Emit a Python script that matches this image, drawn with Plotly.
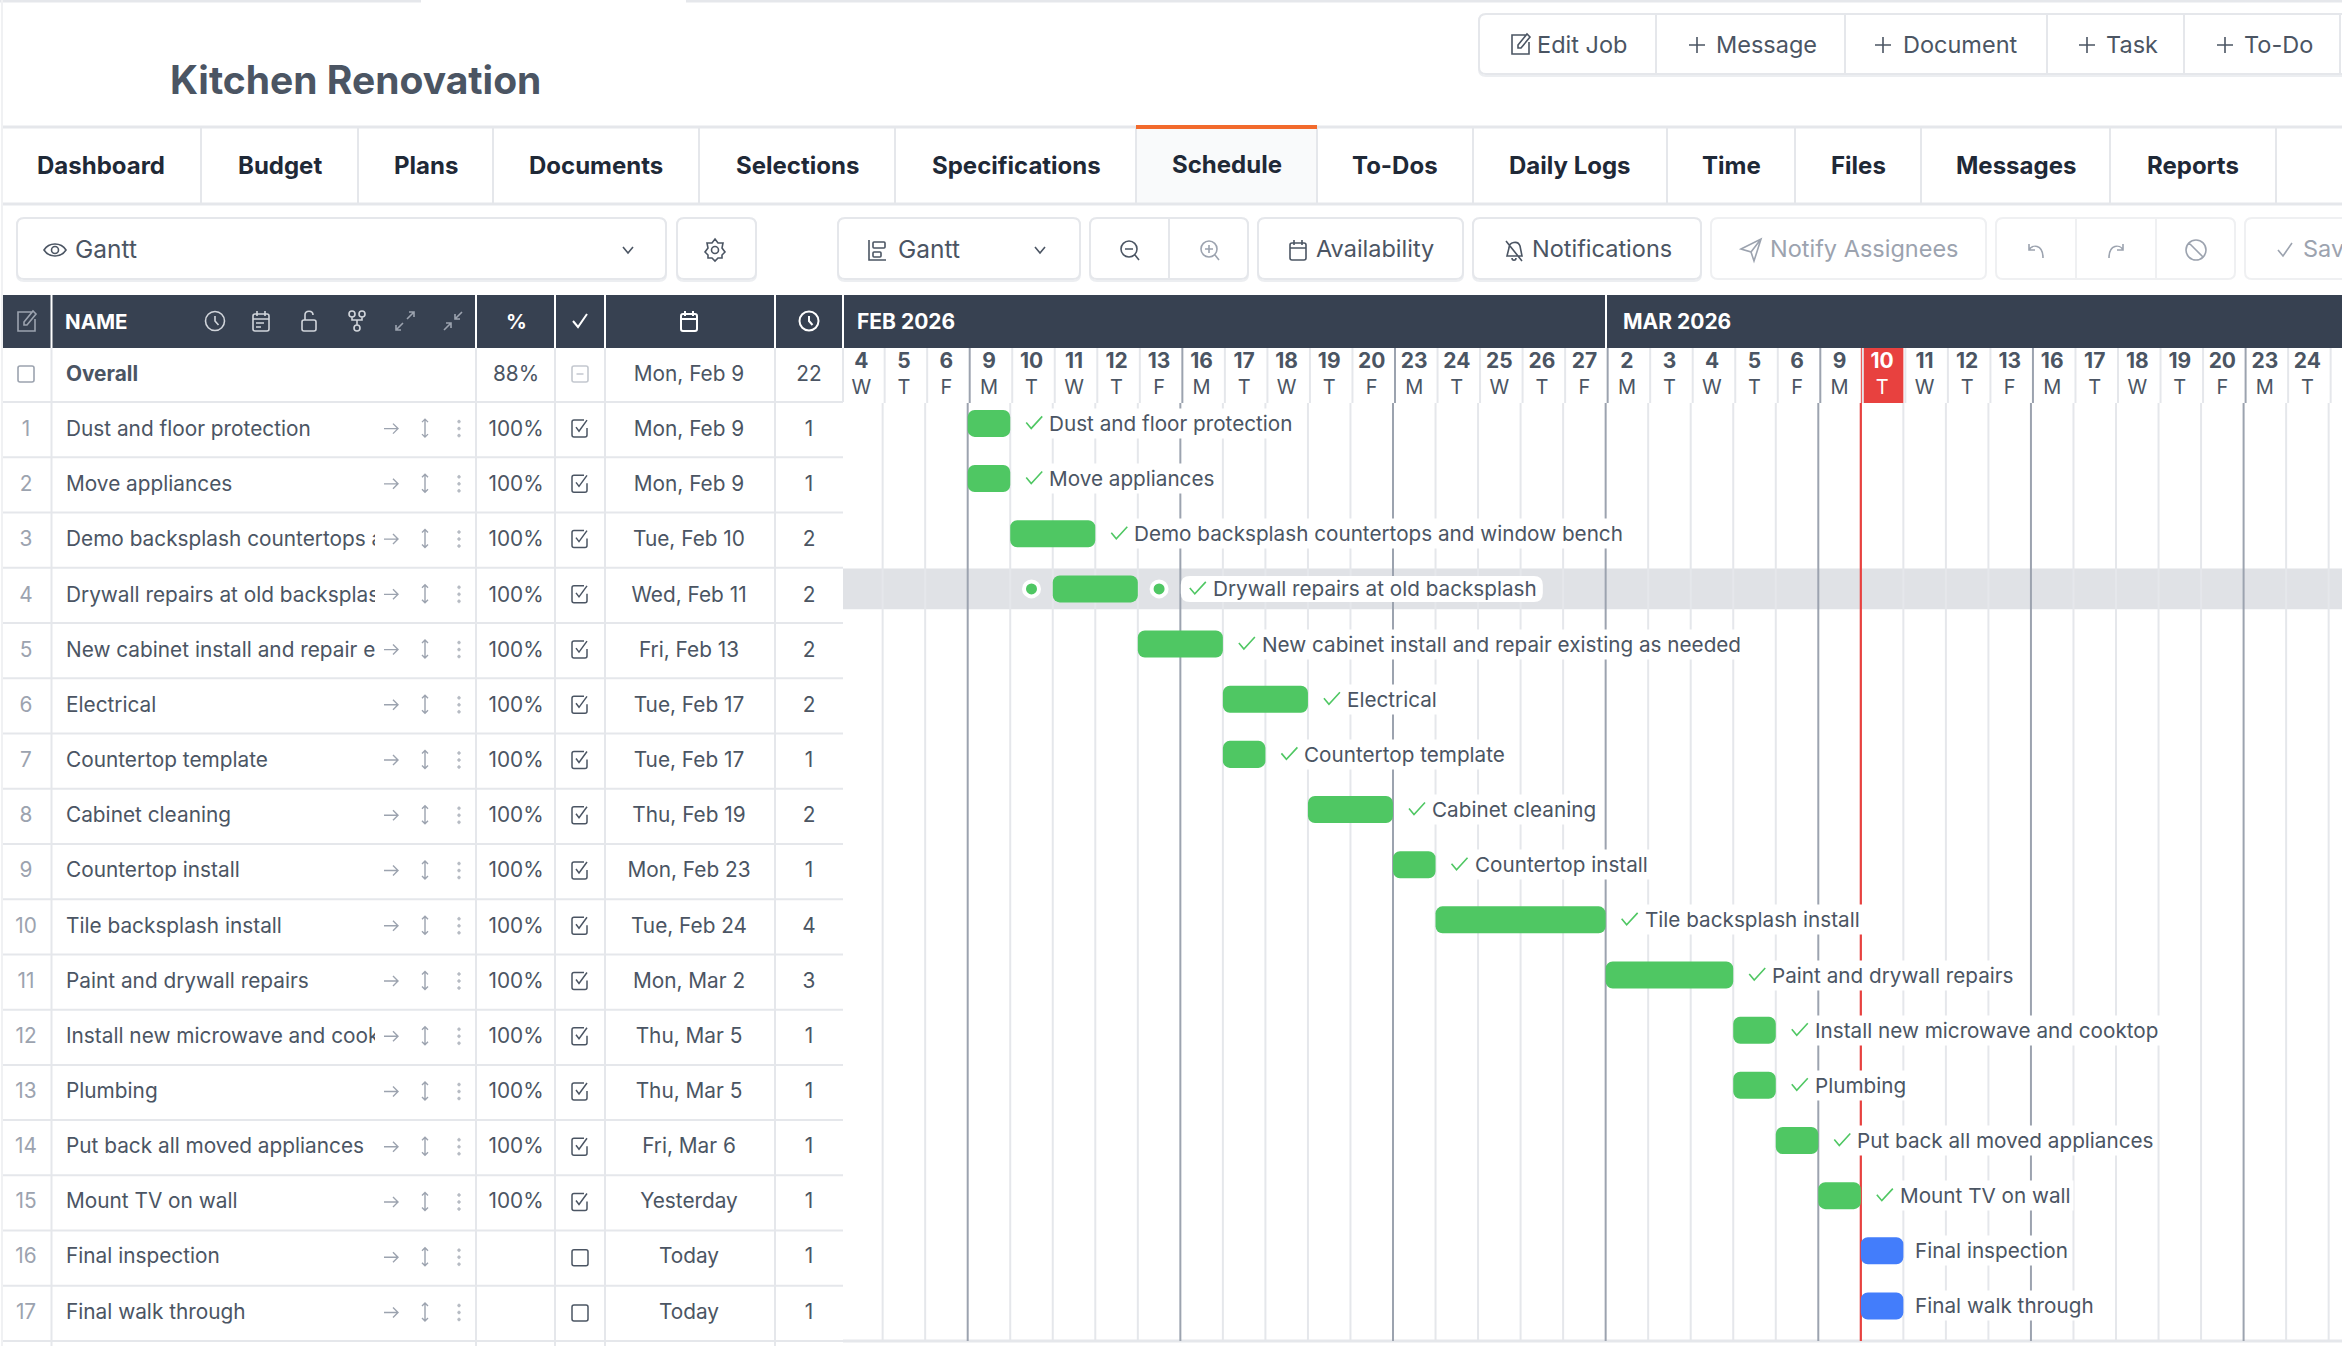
import re
import plotly.graph_objects as go

W, H = 2342, 1346

# ---- data ----
task_names = ["Dust and floor protection", "Move appliances", "Demo backsplash countertops and window bench",
              "Drywall repairs at old backsplash", "New cabinet install and repair existing as needed", "Electrical",
              "Countertop template", "Cabinet cleaning", "Countertop install", "Tile backsplash install",
              "Paint and drywall repairs", "Install new microwave and cooktop", "Plumbing",
              "Put back all moved appliances", "Mount TV on wall", "Final inspection", "Final walk through"]
task_pct = ["100%"] * 15 + ["", ""]
task_start_text = ["Mon, Feb 9", "Mon, Feb 9", "Tue, Feb 10", "Wed, Feb 11", "Fri, Feb 13", "Tue, Feb 17", "Tue, Feb 17",
                   "Thu, Feb 19", "Mon, Feb 23", "Tue, Feb 24", "Mon, Mar 2", "Thu, Mar 5", "Thu, Mar 5", "Fri, Mar 6",
                   "Yesterday", "Today", "Today"]
task_start_day = ["Feb 9", "Feb 9", "Feb 10", "Feb 11", "Feb 13", "Feb 17", "Feb 17", "Feb 19", "Feb 23", "Feb 24",
                  "Mar 2", "Mar 5", "Mar 5", "Mar 6", "Mar 9", "Mar 10", "Mar 10"]
task_days = [1, 1, 2, 2, 2, 2, 1, 2, 1, 4, 3, 1, 1, 1, 1, 1, 1]
overall = ["Overall", "88%", "Mon, Feb 9", "22"]

day_keys = ["Feb 4", "Feb 5", "Feb 6", "Feb 9", "Feb 10", "Feb 11", "Feb 12", "Feb 13", "Feb 16", "Feb 17", "Feb 18",
            "Feb 19", "Feb 20", "Feb 23", "Feb 24", "Feb 25", "Feb 26", "Feb 27", "Mar 2", "Mar 3", "Mar 4", "Mar 5",
            "Mar 6", "Mar 9", "Mar 10", "Mar 11", "Mar 12", "Mar 13", "Mar 16", "Mar 17", "Mar 18", "Mar 19", "Mar 20",
            "Mar 23", "Mar 24", "Mar 25"]
day_letters = ["W", "T", "F", "M", "T", "W", "T", "F", "M", "T", "W", "T", "F", "M", "T", "W", "T", "F", "M", "T", "W",
               "T", "F", "M", "T", "W", "T", "F", "M", "T", "W", "T", "F", "M", "T", "W"]
today = "Mar 10"
hover_task = 4

tab_names = ["Dashboard", "Budget", "Plans", "Documents", "Selections", "Specifications", "Schedule", "To-Dos",
             "Daily Logs", "Time", "Files", "Messages", "Reports"]
active_tab = "Schedule"

# ---- layout constants, in screenshot pixels ----
FONT = "Inter"
INK = "#4b5563"
MUTED = "#9ca3af"
LINE = "#e5e7eb"
DARK = "#374151"
GREEN = "#4fc763"
BLUE = "#437dfb"
RED = "#e8413f"

GANTT_X0 = 843
DAY0_PX = 967.7        # left edge of Feb 9
DAY_PX = 42.53
ROW_PX = 55.24
BOTTOM = 1341
GRID_TOP, GRID_END = 0.63, 17.635
tab_center = [101, 279.5, 426, 596, 797, 1016, 1226.5, 1395, 1570, 1731, 1858, 2016, 2193]
tab_dividers = [201, 358, 493, 699, 895, 1136, 1317, 1473, 1667, 1795, 1921, 2110, 2276]
col_dividers = [51.5, 476, 555, 605, 775, 843]

day_index = {d: i - 3 for i, d in enumerate(day_keys)}
task_begin = [day_index[d] for d in task_start_day]
task_end = [b + n for b, n in zip(task_begin, task_days)]
rows = list(range(1, len(task_names) + 1))


def row_y(r):
    return 402 + ROW_PX * (r - 0.5)


def tr(path, cx, cy, s=1.0):
    # move an icon path drawn around (0,0) to its place
    nums = iter(range(100000))

    def sub(m):
        v = float(m.group(0))
        return f"{(cx if next(nums) % 2 == 0 else cy) + v * s:.2f}"

    return re.sub(r"-?\d+\.?\d*", sub, path)


def rr(x0, y0, x1, y1, r):
    return (f"M{x0 + r} {y0}L{x1 - r} {y0}Q{x1} {y0} {x1} {y0 + r}L{x1} {y1 - r}Q{x1} {y1} {x1 - r} {y1}"
            f"L{x0 + r} {y1}Q{x0} {y1} {x0} {y1 - r}L{x0} {y0 + r}Q{x0} {y0} {x0 + r} {y0}Z")


def circ(cx, cy, r):
    k = 0.552 * r
    return (f"M{cx - r} {cy}C{cx - r} {cy - k} {cx - k} {cy - r} {cx} {cy - r}C{cx + k} {cy - r} {cx + r} {cy - k} {cx + r} {cy}"
            f"C{cx + r} {cy + k} {cx + k} {cy + r} {cx} {cy + r}C{cx - k} {cy + r} {cx - r} {cy + k} {cx - r} {cy}Z")


ICONS = {
    "clock": circ(0, 0, 9.5) + "M0 -5L0 0L3.5 4",
    "cal": rr(-8, -7, 8, 10, 2) + "M-8 -2L8 -2M-4 -10L-4 -5M4 -10L4 -5",
    "cal_lines": rr(-8, -7, 8, 10, 2) + "M-8 -2L8 -2M-4 -10L-4 -5M4 -10L4 -5M-5 2L3 2M-5 6L0 6",
    "lock": rr(-7, -1, 7, 10, 2) + "M-4 -1L-4 -6C-4 -11 4 -11 4 -6",
    "branch": circ(-5, -7, 3) + circ(5, -7, 3) + circ(0, 7, 3) + "M-5 -4L-5 -1L5 -1L5 -4M0 -1L0 4",
    "expand": "M2 -2L9 -9M4 -9L9 -9L9 -4M-2 2L-9 9M-9 4L-9 9L-4 9",
    "compress": "M2 -2L9 -9M2 -7L2 -2L7 -2M-2 2L-9 9M-7 2L-2 2L-2 7",
    "edit": "M6 -9L-8 -9L-8 10L9 10L9 -2M-2 4L-2 1L7 -10L10 -7L1 4Z",
    "check": "M-7 0L-2 6L7 -7",
    "arrow": "M-7 0L7 0M2 -5L7 0L2 5",
    "updown": "M0 -9L0 9M-3 -6L0 -9L3 -6M-3 6L0 9L3 6",
    "eye": "M-11 0C-6 -8 6 -8 11 0C6 8 -6 8 -11 0Z" + circ(0, 0, 3.5),
    "chev": "M-5 -3L0 3L5 -3",
    "gear": "M0 -11L3 -7L8 -7L7 -2L10 2L7 5L7 8L3 8L0 11L-3 8L-7 8L-7 5L-10 2L-7 -2L-8 -7L-3 -7Z" + circ(0, 0, 3.5),
    "gantt": "M-8 -10L-8 10L9 10" + rr(-4, -8, 8, -2, 1) + rr(-4, 2, 4, 7, 1),
    "zoom_out": circ(-1, -1, 8) + "M5 5L9 10M-5 -1L3 -1",
    "zoom_in": circ(-1, -1, 8) + "M5 5L9 10M-5 -1L3 -1M-1 -5L-1 3",
    "bell_off": "M-8 -9L8 11M-7 6L-5 -2C-5 -8 4 -10 6 -4L8 6ZM-2 8C-2 11 2 11 2 8",
    "send": "M-10 -1L10 -11L3 11L0 2ZM0 2L10 -11",
    "undo": "M-7 -6L-7 0L-1 0M-7 0C-4 -6 7 -6 7 8",
    "redo": "M7 -6L7 0L1 0M7 0C4 -6 -7 -6 -7 8",
    "ban": circ(0, 0, 10) + "M-7 -7L7 7",
    "plus": "M-8 0L8 0M0 -8L0 8",
    "minus_box": rr(-8, -8, 8, 8, 2) + "M-3.5 0L3.5 0",
    "box": rr(-8, -8, 8, 8, 2),
    "box_check": "M7 -1L7 6Q7 8 5 8L-6 8Q-8 8 -8 6L-8 -7Q-8 -9 -6 -9L4 -9M-4 -2L-1 2L7 -9",
}

shapes = []
annotations = []


def line(x0, y0, x1, y1, color=LINE, w=2, xref="x", yref="y"):
    shapes.append(dict(type="line", x0=x0, y0=y0, x1=x1, y1=y1, xref=xref, yref=yref, layer="below",
                       line=dict(color=color, width=w)))


def box(x0, y0, x1, y1, color, xref="x", yref="y"):
    shapes.append(dict(type="rect", x0=x0, y0=y0, x1=x1, y1=y1, xref=xref, yref=yref, layer="below",
                       fillcolor=color, line=dict(width=0)))


def path(d, color=LINE, w=2, fill="rgba(0,0,0,0)"):
    shapes.append(dict(type="path", path=d, xref="x", yref="y", layer="below", fillcolor=fill,
                       line=dict(color=color, width=w)))


def icon(name, cx, cy, color=INK, w=1.6, s=1.0):
    path(tr(ICONS[name], cx, cy, s), color, w)


def label(text, x, y, size=23.5, color=INK, weight=400, anchor="left"):
    annotations.append(dict(text=text, x=x, y=y, xref="x", yref="y", xanchor=anchor, yanchor="middle", showarrow=False,
                            font=dict(family=FONT, size=size, color=color, weight=weight)))


def button(x0, x1, dividers=(), border=LINE, shadow=True):
    if shadow:
        path(rr(x0, 219, x1, 281, 7), "#eceef1", 2)
    path(rr(x0, 218, x1, 279, 7), border, 2, "#ffffff")
    for d in dividers:
        line(d, 218, d, 279, border)


# ---- page chrome ----
line(0, 1, 421, 1, LINE, 3)
line(686, 1, W, 1, LINE, 3)
line(2, 0, 2, H, "#f0f1f3", 2)
label("Kitchen Renovation", 168, 79.5, 39, INK, 700)

path(rr(1479, 16, W + 10, 76, 7), "#eceef1", 2)
path(rr(1479, 14, W + 10, 74, 7), LINE, 2, "#ffffff")
for d in [1656, 1845, 2047, 2184, 2340]:
    line(d, 14, d, 74)
icon("edit", 1520, 44)
label("Edit Job", 1535, 44)
for px, tx, t in [(1697, 1714, "Message"), (1883, 1901, "Document"), (2087, 2104, "Task"), (2225, 2242, "To-Do")]:
    icon("plus", px, 45)
    label(t, tx, 44)

# tab bar
box(1136, 127, 1317, 204, "#f9fafb")
line(3, 127, W, 127, LINE, 3)
line(3, 204, W, 204, LINE, 3)
for d in tab_dividers:
    line(d, 127, d, 204)
box(1136, 125, 1317, 129, "#f26a2c")
for name, cx in zip(tab_names, tab_center):
    label(name, cx, 164 if name == active_tab else 165.5, 24, "#1f2937", 700, "center")

# toolbar
button(17, 666)
icon("eye", 55, 250, INK, 1.6)
label("Gantt", 73, 248.5, 24.5)
icon("chev", 628, 250)
button(677, 756)
icon("gear", 715, 250)
button(838, 1080)
icon("gantt", 877, 250)
label("Gantt", 896, 248.5, 24.5)
icon("chev", 1040, 250)
button(1090, 1248, [1169])
icon("zoom_out", 1130, 250)
icon("zoom_in", 1210, 250, MUTED)
button(1258, 1463)
icon("cal", 1298, 250)
label("Availability", 1314, 248.5)
button(1473, 1701)
icon("bell_off", 1514, 250)
label("Notifications", 1530, 248.5)
button(1711, 1986, shadow=False, border="#eff0f2")
icon("send", 1751, 250, MUTED)
label("Notify Assignees", 1768, 248.5, 23.5, MUTED)
button(1996, 2235, [2076, 2156], shadow=False, border="#eff0f2")
icon("undo", 2036, 250, MUTED)
icon("redo", 2116, 250, MUTED)
icon("ban", 2196, 250, MUTED)
button(2245, W + 10, shadow=False, border="#eff0f2")
icon("check", 2285, 250, MUTED)
label("Save", 2301, 248.5, 23.5, MUTED)

# table and gantt header
box(3, 295, W, 348, DARK)
for d in col_dividers:
    line(d, 295, d, 348, "#ffffff", 2)
line(1606, 295, 1606, 348, "#ffffff", 2)
icon("edit", 26, 321, MUTED)
label("NAME", 63, 321.5, 20.5, "#ffffff", 700)
for name, cx, col in [("clock", 215, "#d1d5db"), ("cal_lines", 261, "#d1d5db"), ("lock", 309, "#d1d5db"),
                      ("branch", 357, "#d1d5db"), ("expand", 405, MUTED), ("compress", 453, MUTED)]:
    icon(name, cx, 321, col)
label("%", 516, 321.5, 20.5, "#ffffff", 700, "center")
icon("check", 580, 321, "#ffffff", 2)
icon("cal", 689, 321, "#ffffff", 2)
icon("clock", 809, 321, "#ffffff", 2)
label("FEB 2026", 855, 321.5, 21, "#ffffff", 700)
label("MAR 2026", 1621, 321.5, 21, "#ffffff", 700)

# table body lines and row icons
for d in col_dividers[:-1]:
    line(d, 348, d, H)
line(843, 348, 843, 402)
for r in range(0, len(rows) + 1):
    line(3, row_y(r) + ROW_PX / 2, 843, row_y(r) + ROW_PX / 2, LINE, 2)
icon("box", 26, 374, MUTED, 1.6)
icon("minus_box", 580, 374, "#c4c8cf", 1.6)
for r, pct in zip(rows, task_pct):
    y = row_y(r)
    icon("arrow", 391, y - 1, MUTED, 1.4)
    icon("updown", 425, y - 1.5, MUTED, 1.4)
    for dy in (-7, 0, 7):
        path(circ(459, y - 1 + dy, 1.5), "#b6bbc3", 0.5, "#b6bbc3")
    icon("box_check" if pct else "box", 580, y - 0.5, INK, 1.5)

# ---- gantt grid ----
n_days = len(day_keys)
day_edges = list(range(-3, n_days - 3))
mondays = [day_index[d] for d, l in zip(day_keys, day_letters) if l == "M"]
box(day_edges[0], hover_task - 0.37, day_edges[-1] + 1, hover_task + 0.37, "#e0e2e6", "x2", "y2")
box(day_index[today], 348, day_index[today] + 1, 403, RED, "x2", "y")
for e in day_edges[1:]:
    # the day header cells sit about 2px to the right of the grid below
    col = MUTED if e in mondays else LINE
    line(e + 2 / DAY_PX, 348, e + 2 / DAY_PX, 403, col, 2, "x2", "y")
    line(e, GRID_TOP, e, GRID_END, col, 2, "x2", "y2")
line(day_index[today], GRID_TOP, day_index[today], GRID_END, RED, 2.2, "x2", "y2")
line(GANTT_X0, BOTTOM, W, BOTTOM, LINE, 3)

# pill behind the label of the hovered row, then the green ticks of finished tasks
shapes.append(dict(type="path", xref="x2", yref="y2", xsizemode="pixel", ysizemode="pixel", layer="below",
                   xanchor=task_end[hover_task - 1], yanchor=hover_task, path=rr(43, -13, 405, 13, 9),
                   fillcolor="#ffffff", line=dict(width=0)))
for r, end, pct in zip(rows, task_end, task_pct):
    if pct:
        dx = 36 if r == hover_task else 0
        shapes.append(dict(type="path", xref="x2", yref="y2", xsizemode="pixel", ysizemode="pixel", layer="above",
                           xanchor=end, yanchor=r, path=f"M{16 + dx} 1L{21 + dx} -5L{32 + dx} 7",
                           fillcolor="rgba(0,0,0,0)", line=dict(color=GREEN, width=1.6)))

# ---- traces ----
fig = go.Figure()


def table_text(x, y, text, color=INK, weight=400):
    fig.add_trace(go.Scatter(x=x, y=y, text=text, mode="text", xaxis="x", yaxis="y3", cliponaxis=False,
                             textposition="middle center", hoverinfo="skip",
                             textfont=dict(family=FONT, size=20.8, color=color, weight=weight)))


table_text([26] * len(rows), rows, [str(r) for r in rows], MUTED)
table_text([516] * (len(rows) + 1), [0] + rows, [overall[1]] + task_pct)
table_text([689] * (len(rows) + 1), [0] + rows, [overall[2]] + task_start_text)
table_text([809] * (len(rows) + 1), [0] + rows, [overall[3]] + [str(d) for d in task_days])

# name column has its own axis so long names get cut at the column edge
fig.add_trace(go.Scatter(x=[0] * (len(rows) + 1), y=[0] + rows,
                         text=[f"<b>{overall[0]}</b>"] + [n[:33] for n in task_names], mode="text", xaxis="x3", yaxis="y3",
                         textposition="middle right", hoverinfo="skip",
                         textfont=dict(family=FONT, size=20.8, color=INK)))

day_x = [i + 0.5 for i in day_edges]
fig.add_trace(go.Scatter(x=day_x, y=[362.5] * n_days, text=[d.split()[1] for d in day_keys], mode="text",
                         xaxis="x2", yaxis="y", cliponaxis=False, hoverinfo="skip",
                         textfont=dict(family=FONT, size=21, weight=700,
                                       color=["#ffffff" if d == today else INK for d in day_keys])))
fig.add_trace(go.Scatter(x=day_x, y=[388.5] * n_days, text=day_letters, mode="text",
                         xaxis="x2", yaxis="y", cliponaxis=False, hoverinfo="skip",
                         textfont=dict(family=FONT, size=20,
                                       color=["#ffffff" if d == today else INK for d in day_keys])))

fig.add_trace(go.Bar(y=rows, x=task_days, base=task_begin, orientation="h", width=0.49, xaxis="x2", yaxis="y2",
                     marker=dict(color=[GREEN if p else BLUE for p in task_pct], cornerradius=7, line=dict(width=0)),
                     hoverinfo="skip"))
# link dots on the hovered row
fig.add_trace(go.Scatter(x=[task_begin[hover_task - 1] - 0.5, task_end[hover_task - 1] + 0.5],
                         y=[hover_task, hover_task], mode="markers", xaxis="x2", yaxis="y2", hoverinfo="skip",
                         marker=dict(size=15, color=GREEN, line=dict(color="#ffffff", width=4))))

for r, name, end, pct in zip(rows, task_names, task_end, task_pct):
    shift = 36 if pct else 9
    if r == hover_task:
        shift = 72
    annotations.append(dict(text=name, x=end, y=r, xref="x2", yref="y2", xanchor="left", yanchor="middle",
                            xshift=shift, showarrow=False, bgcolor="#ffffff" if r != hover_task else None, borderpad=2,
                            font=dict(family=FONT, size=20.7, color=INK)))

hidden = dict(visible=False, fixedrange=True)
fig.update_layout(
    width=W, height=H, margin=dict(l=0, r=0, t=0, b=0), paper_bgcolor="#ffffff", plot_bgcolor="rgba(0,0,0,0)",
    showlegend=False, barmode="overlay", shapes=shapes, annotations=annotations,
    xaxis=dict(domain=[0, 1], range=[0, W], **hidden),
    yaxis=dict(domain=[0, 1], range=[H, 0], **hidden),
    xaxis2=dict(domain=[GANTT_X0 / W, 1], anchor="y2", range=[(GANTT_X0 - DAY0_PX) / DAY_PX, (W - DAY0_PX) / DAY_PX], **hidden),
    yaxis2=dict(domain=[(H - BOTTOM) / H, (H - 403) / H], anchor="x2", range=[GRID_END, GRID_TOP], **hidden),
    xaxis3=dict(domain=[66 / W, 375 / W], anchor="y3", range=[0, 1], **hidden),
    yaxis3=dict(domain=[(H - BOTTOM) / H, (H - 348.5) / H], anchor="x3", range=[17.5, -0.4957], **hidden),
)

fig.write_html("out.html", config=dict(displayModeBar=False),
               post_script="document.body.style.margin='0';document.body.style.overflow='hidden';")
